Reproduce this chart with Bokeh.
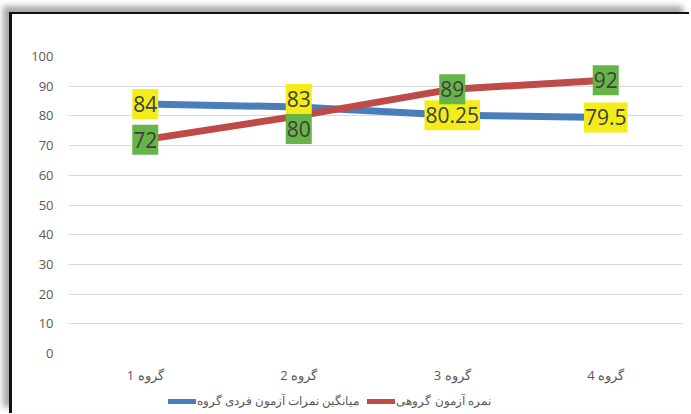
from bokeh.plotting import figure
from bokeh.layouts import column
from bokeh.models import (ColumnDataSource, FactorRange, Range1d, Legend, LegendItem,
                          FixedTicker)
from bokeh.core.properties import value
from bokeh.embed import file_html
from bokeh.resources import INLINE

# ---- data ----
groups = ["گروه 1", "گروه 2", "گروه 3", "گروه 4"]
individual_mean = [84, 83, 80.25, 79.5]
group_score = [72, 80, 89, 92]
individual_labels = ["84", "83", "80.25", "79.5"]
group_labels = ["72", "80", "89", "92"]
series_names = ["میانگین نمرات آزمون فردی گروه", "نمره آزمون گروهی"]
y_ticks = [0, 10, 20, 30, 40, 50, 60, 70, 80, 90, 100]

# label nudges (screen px, positive = down) to avoid overlapping labels
individual_label_dy = [0, -8, 0, 0]
group_label_dy = [0, 13, 0, 0]

BLUE = "#4A7EBB"
RED = "#BE4B48"
YELLOW = "#F3EC19"
GREEN = "#67B548"
TEXT = "#595959"

src_ind = ColumnDataSource(dict(x=groups, y=individual_mean, label=individual_labels,
                                dy=individual_label_dy))
src_grp = ColumnDataSource(dict(x=groups, y=group_score, label=group_labels,
                                dy=group_label_dy))

p = figure(x_range=FactorRange(*groups), y_range=Range1d(0, 100),
           width=677, height=377,
           min_border_left=56, min_border_right=7, min_border_top=42, min_border_bottom=38,
           output_backend="svg", toolbar_location=None)

p.outline_line_color = None
p.background_fill_color = "white"
p.border_fill_color = "white"

# grid
p.xgrid.grid_line_color = None
p.ygrid.grid_line_color = "#D9D9D9"
p.ygrid.grid_line_width = 1
p.yaxis.ticker = FixedTicker(ticks=y_ticks)

for ax in (p.xaxis, p.yaxis):
    ax.axis_line_color = None
    ax.major_tick_line_color = None
    ax.minor_tick_line_color = None
    ax.major_tick_out = 0
    ax.major_tick_in = 0
    ax.major_label_text_color = TEXT
    ax.major_label_text_font = "Open Sans"
    ax.major_label_text_font_size = "13px"
p.yaxis.major_label_standoff = 15
p.xaxis.major_label_standoff = 12

r_ind = p.line("x", "y", source=src_ind, line_color=BLUE, line_width=7,
               line_cap="round", line_join="round")
r_grp = p.line("x", "y", source=src_grp, line_color=RED, line_width=7,
               line_cap="round", line_join="round")

common = dict(text="label", text_align="center", text_baseline="middle",
              text_font=value("Open Sans"), text_font_size="21px", text_color="#404040",
              y_offset="dy", padding=dict(left=1, right=1, top=7, bottom=7))
p.text(x="x", y="y", source=src_ind, background_fill_color=YELLOW, **common)
p.text(x="x", y="y", source=src_grp, background_fill_color=GREEN, **common)

# ---- legend strip below the chart (series drawn out of view, only legend shows) ----
lg = figure(width=677, height=22, x_range=FactorRange(*groups), y_range=Range1d(1000, 1001),
            x_axis_type=None, y_axis_type=None, min_border=0,
            output_backend="svg", toolbar_location=None)
lg.outline_line_color = None
lg.grid.visible = False
lg.border_fill_color = "white"
l_ind = lg.line("x", "y", source=src_ind, line_color=BLUE, line_width=5, line_cap="round")
l_grp = lg.line("x", "y", source=src_grp, line_color=RED, line_width=5, line_cap="round")

legend = Legend(items=[LegendItem(label=series_names[0], renderers=[l_ind]),
                       LegendItem(label=series_names[1], renderers=[l_grp])],
                orientation="horizontal", location=(100, 4),
                border_line_color=None, background_fill_alpha=0,
                padding=0, margin=0, spacing=8,
                glyph_width=28, glyph_height=14, label_height=14, label_standoff=1,
                label_text_font_size="12px", label_text_color=TEXT,
                label_text_font="Open Sans")
lg.add_layout(legend)

layout = column(p, lg, spacing=0)
layout.styles = {"position": "relative", "left": "9px", "top": "12px",
                 "border-left": "3px solid #111", "border-top": "2px solid #111",
                 "box-shadow": "-6px -6px 6px #a8a8a8"}

open("out.html", "w").write(file_html(layout, INLINE))
